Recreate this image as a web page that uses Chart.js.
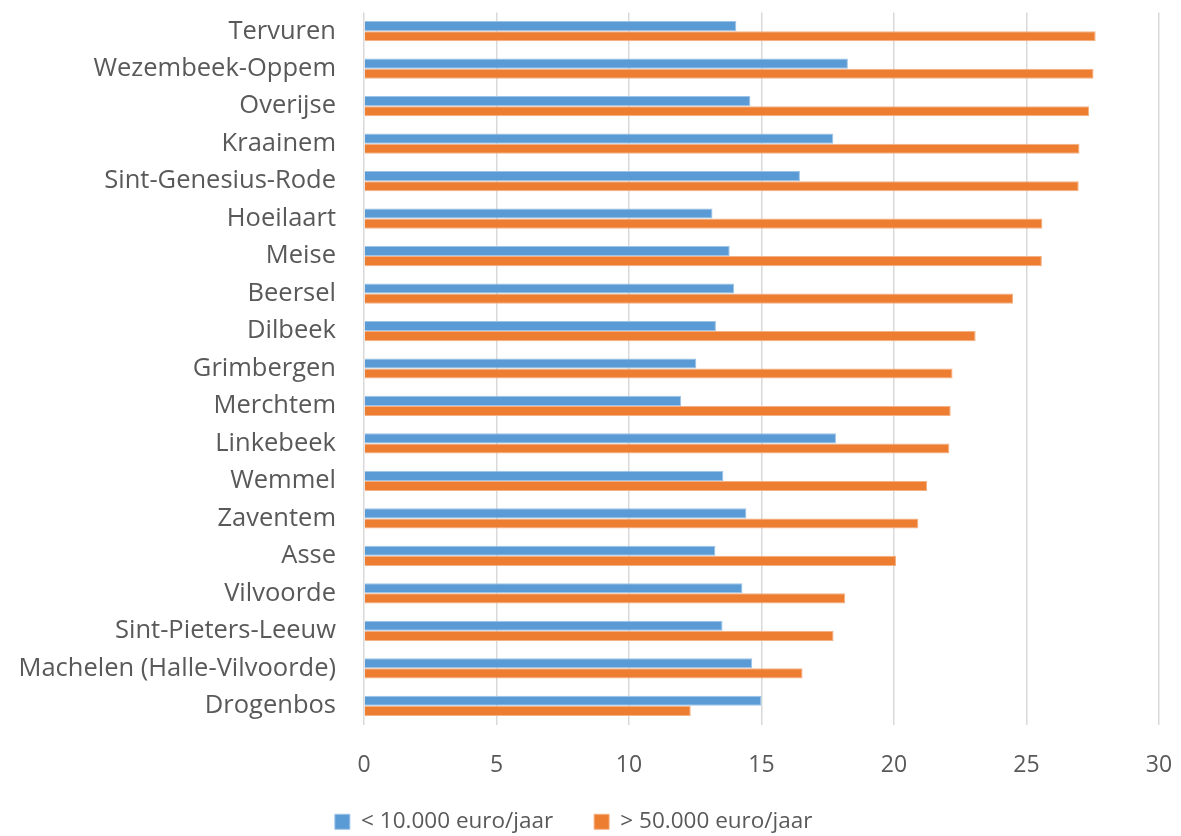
<!DOCTYPE html>
<html>
<head>
<meta charset="utf-8">
<script src="https://cdn.jsdelivr.net/npm/chart.js@4"></script>
<style>
  html, body { margin: 0; padding: 0; background: #fff; }
  .graph-container { width: 1181px; height: 836px; }
</style>
</head>
<body>
<div class="graph-container"><canvas id="chart"></canvas></div>
<script>
const gemeenten = [
  'Tervuren', 'Wezembeek-Oppem', 'Overijse', 'Kraainem', 'Sint-Genesius-Rode',
  'Hoeilaart', 'Meise', 'Beersel', 'Dilbeek', 'Grimbergen', 'Merchtem',
  'Linkebeek', 'Wemmel', 'Zaventem', 'Asse', 'Vilvoorde', 'Sint-Pieters-Leeuw',
  'Machelen (Halle-Vilvoorde)', 'Drogenbos'
];
const laagInkomen = [
  14.05, 18.26, 14.58, 17.71, 16.45, 13.15, 13.8, 13.97, 13.28, 12.54, 11.97,
  17.81, 13.56, 14.43, 13.26, 14.28, 13.53, 14.65, 15.0
];
const hoogInkomen = [
  27.61, 27.53, 27.36, 27.0, 26.97, 25.6, 25.58, 24.49, 23.08, 22.21, 22.14,
  22.09, 21.25, 20.92, 20.08, 18.16, 17.72, 16.55, 12.33
];
const xTicks = [0, 5, 10, 15, 20, 25, 30];

const textColor = '#595959';

const ctx = document.getElementById('chart').getContext('2d');
new Chart(ctx, {
  type: 'bar',
  data: {
    labels: gemeenten,
    datasets: [
      {
        label: '< 10.000 euro/jaar',
        data: laagInkomen,
        backgroundColor: '#5B9BD5',
        borderColor: '#9DC3E6',
        borderWidth: 1,
        categoryPercentage: 0.54,
        barPercentage: 1.0
      },
      {
        label: '> 50.000 euro/jaar',
        data: hoogInkomen,
        backgroundColor: '#ED7D31',
        borderColor: '#F4B183',
        borderWidth: 1,
        categoryPercentage: 0.54,
        barPercentage: 1.0
      }
    ]
  },
  options: {
    indexAxis: 'y',
    responsive: true,
    maintainAspectRatio: false,
    animation: false,
    layout: { padding: { top: 12.5, right: 22, left: 0, bottom: -7 } },
    scales: {
      x: {
        min: 0,
        max: 30,
        afterBuildTicks: (axis) => { axis.ticks = xTicks.map(v => ({ value: v })); },
        afterFit: (axis) => {
          axis.height = 86;
          axis.paddingLeft = 0;
          axis.paddingRight = 0;
        },
        grid: { color: '#d9d9d9', lineWidth: 1.5, drawTicks: false },
        border: { display: false },
        ticks: { color: textColor, font: { family: 'Open Sans', size: 23 }, padding: 27 }
      },
      y: {
        afterFit: (axis) => {
          axis.width = 364;
          axis.paddingTop = 0;
          axis.paddingBottom = 0;
        },
        grid: { display: false, drawTicks: false },
        border: { display: false },
        ticks: { color: textColor, font: { family: 'Open Sans', size: 25.5 }, padding: 28, autoSkip: false }
      }
    },
    plugins: {
      legend: {
        position: 'bottom',
        labels: {
          color: textColor,
          font: { family: 'Open Sans', size: 22.5 },
          boxWidth: 15,
          boxHeight: 15,
          padding: 0,
          // extra spacing after the first legend item
          generateLabels: (chart) => {
            const items = Chart.defaults.plugins.legend.labels.generateLabels(chart);
            items[0].text = items[0].text + '\u00a0'.repeat(7);
            items[1].text = items[1].text + '\u00a0\u00a0';
            return items;
          }
        }
      },
      tooltip: { enabled: false }
    }
  }
});
</script>
</body>
</html>
